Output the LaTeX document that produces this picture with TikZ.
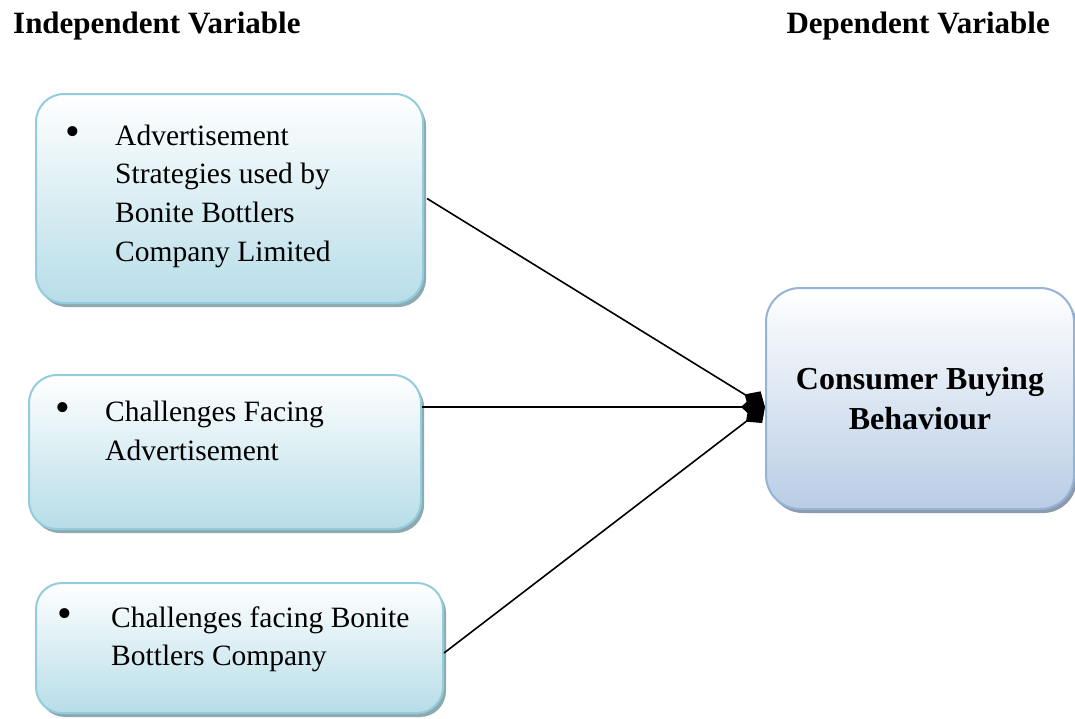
\documentclass[tikz,border=0pt]{standalone}
\usepackage{fontspec}
\setmainfont{Liberation Serif}
\usetikzlibrary{arrows.meta,shadows}
\definecolor{cyanfill}{HTML}{B7DDE8}
\definecolor{cyanborder}{HTML}{93CDDD}
\definecolor{cyanshadow}{HTML}{8FA9B0}
\definecolor{bluefill}{HTML}{B9CDE5}
\definecolor{blueborder}{HTML}{95B3D7}
\definecolor{blueshadow}{HTML}{8D9BAD}
\tikzset{
  ibox/.style={draw=cyanborder, line width=2pt, rounded corners=28pt,
    top color=white, bottom color=cyanfill, anchor=north west, inner sep=0pt,
    drop shadow={shadow xshift=3pt, shadow yshift=-4pt, fill=cyanshadow, opacity=1}},
  dbox/.style={draw=blueborder, line width=2pt, rounded corners=34pt,
    top color=white, bottom color=bluefill, anchor=north west, inner sep=0pt,
    align=center, font=\fontsize{32}{40}\selectfont\bfseries,
    drop shadow={shadow xshift=3pt, shadow yshift=-4pt, fill=blueshadow, opacity=1}},
  btxt/.style={anchor=base west, inner sep=0pt, font=\fontsize{29.5}{39}\selectfont},
  bul/.style={anchor=base, inner sep=0pt, font=\fontsize{42}{42}\selectfont},
  head/.style={anchor=base west, inner sep=0pt, font=\fontsize{31}{38}\selectfont\bfseries},
  conn/.style={line width=1.6pt, -{Diamond[length=24pt,width=22pt]}},
}
\begin{document}
\begin{tikzpicture}[x=1pt,y=-1pt]
\useasboundingbox (0,0) rectangle (1075,718);
% headers
\node[head] (hind) at (13,33) {Independent Variable};
\node[head, anchor=base east] (hdep) at (1050,33) {Dependent Variable};
% boxes
\node[ibox, minimum width=387pt, minimum height=209pt] (box1) at (35,93) {};
\node[ibox, minimum width=392pt, minimum height=154pt] (box2) at (28,374) {};
\node[ibox, rounded corners=26pt, minimum width=407pt, minimum height=130pt] (box3) at (35,582) {};
\node[dbox, minimum width=308pt, minimum height=221pt] (box4) at (765,287) {Consumer Buying\\Behaviour};
% box texts
\node[bul] (b1) at (73,145) {•};
\node[btxt] (t1a) at (115,145) {Advertisement};
\node[btxt] (t1b) at (115,183) {Strategies used by};
\node[btxt] (t1c) at (115,222) {Bonite Bottlers};
\node[btxt] (t1d) at (115,261) {Company Limited};
\node[bul] (b2) at (63,421) {•};
\node[btxt] (t2a) at (105,421) {Challenges Facing};
\node[btxt] (t2b) at (105,460) {Advertisement};
\node[bul] (b3) at (65,627) {•};
\node[btxt] (t3a) at (111,627) {Challenges facing Bonite};
\node[btxt] (t3b) at (111,665) {Bottlers Company};
% connectors
\coordinate (tip) at ([yshift=-8.5pt]box4.west);
\draw[conn] ([xshift=3pt]box1.east) -- (tip);
\draw[conn] (box2.east |- tip) -- (tip);
\draw[conn] ([yshift=-5pt]box3.east) -- (tip);
\end{tikzpicture}
\end{document}
